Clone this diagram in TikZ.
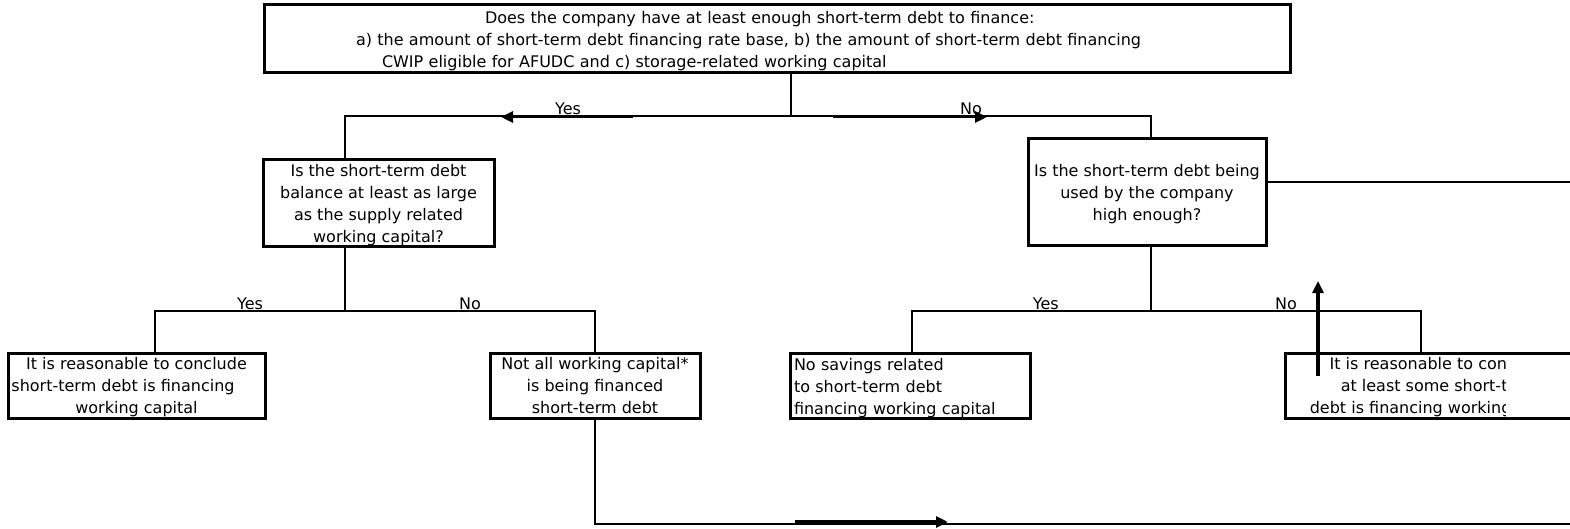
\documentclass[tikz,border=0pt]{standalone}
\usepackage{fontspec}
\setmainfont{DejaVu Sans}
\usetikzlibrary{arrows.meta,positioning,calc}

\newcommand{\lineup}{\rule{0pt}{16.5pt}}

\begin{document}
\begin{tikzpicture}[
  x=1pt, y=-1pt, font=\fontsize{16}{22}\selectfont,
  frame/.style={draw, line width=3pt, inner sep=0pt},
  lift/.style={text depth=0pt, execute at begin node={\lineup}},
  qbox/.style={frame, align=center, lift},
  leaf/.style={frame, minimum height=65pt, align=center, lift},
  link/.style={line width=1.5pt},
  lbl/.style={above, inner sep=1pt},
  fat/.style={line width=3pt, -{Triangle[length=12pt,width=11pt]}}
]
\useasboundingbox (0,0) rectangle (1570,529);
\clip (0,0) rectangle (1570,529);
% questions
\node[frame, text width=842pt, inner xsep=92pt, minimum height=68pt, align=left] (q0) at (777,39)
  {\hspace*{129pt}\lineup Does the company have at least enough short-term debt to finance:\\
   a) the amount of short-term debt financing rate base, b) the amount of short-term debt financing\\
   \hspace*{26pt}CWIP eligible for AFUDC and c) storage-related working capital};
\node[qbox, minimum width=231pt, minimum height=87pt] (q1) at (378.5,203.5)
  {Is the short-term debt\\balance at least as large\\as the supply related\\working capital?};
\node[qbox, minimum width=238pt, minimum height=107pt] (q2) at (1147,192.5)
  {Is the short-term debt being\\used by the company\\high enough?};
% outcomes
\node[leaf, minimum width=257pt] (leaf1) at (136.5,385.5)
  {It is reasonable to conclude\\short-term debt is financing\hspace*{27pt}\null\\working capital};
\node[leaf, minimum width=210pt] (leaf2) at (595,385.5)
  {Not all working capital*\\is being financed\\short-term debt};
\node[frame, minimum height=65pt, minimum width=240pt, text width=232pt, inner xsep=4pt, align=left] (leaf3) at (910,385.5)
  {\lineup No savings related\\to short-term debt\\financing working capital};
\node[frame, minimum height=65pt, minimum width=310pt] (leaf4) at (1440,385.5) {};
\begin{scope}
  \clip (leaf4.north west) rectangle (1505,418);
  \node[align=center, inner sep=0pt, lift] (leaf4txt) at (leaf4)
    {It is reasonable to conclude\\at least some short-term\\debt is financing working capital};
\end{scope}
% junctions and free ends
\coordinate (j0) at (791,116);
\coordinate (j1) at (345,311);
\coordinate (j2) at (1151,311);
\coordinate (e1) at (1570,182);
\coordinate (e2) at (1570,524);
% connectors
\draw[link] (j0 |- q0.south) -- (j0);
\draw[link] (j0) -| node[lbl,pos=.25]{Yes} (j1 |- q1.north);
\draw[link] (j0) -| node[lbl,pos=.25]{No} (j2 |- q2.north);
\draw[link] (j1 |- q1.south) -- (j1);
\draw[link] (j1) -| node[lbl,pos=.25]{Yes} ([xshift=18.5pt]leaf1.north);
\draw[link] (j1) -| node[lbl,pos=.25]{No} (leaf2.north);
\draw[link] (j2 |- q2.south) -- (j2);
\draw[link] (j2) -| node[lbl,pos=.22]{Yes} ([xshift=2pt]leaf3.north);
\draw[link] (j2) -| node[lbl,pos=.25]{No} ([xshift=-19pt]leaf4.north);
\draw[link] (q2.east |- e1) -- (e1);
\draw[link] (leaf2.south) -- (leaf2.south |- e2) -- (e2);
% thick arrows
\coordinate (ya) at (633,117); \coordinate (yb) at (501,117);
\coordinate (na) at (833,117); \coordinate (nb) at (987,117);
\coordinate (ba) at (795,522); \coordinate (bb) at (948,522);
\coordinate (ua) at (1318,376); \coordinate (ub) at (1318,281);
\draw[fat] (ya) -- (yb);
\draw[fat] (na) -- (nb);
\draw[fat, line width=5pt] (ba) -- (bb);
\draw[fat, line width=4pt] (ua) -- (ub);
\end{tikzpicture}
\end{document}
